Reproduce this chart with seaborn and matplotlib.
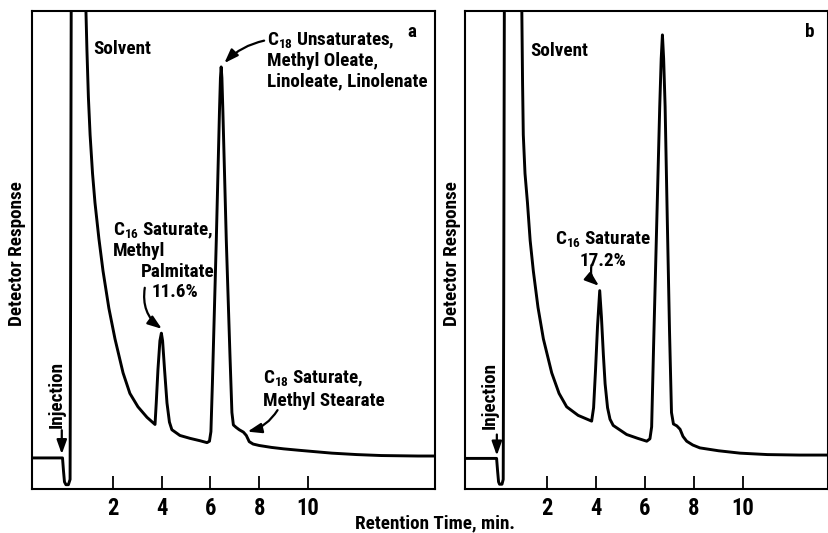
import matplotlib
matplotlib.use("Agg")
import matplotlib.pyplot as plt
from matplotlib import font_manager as fm
import pandas as pd
import seaborn as sns

# ---------------- data ----------------
# Panel a: retention time (min) and detector response (arbitrary units, 0-100 = frame)
time_a = [-1.31, -0.06, -0.02, 0.02, 0.08, 0.18, 0.25, 0.27, 0.30, 0.60, 0.88, 0.90,
          0.94, 1.00, 1.07, 1.17, 1.27, 1.43, 1.60, 1.84, 2.09, 2.42, 2.70, 3.03,
          3.40, 3.73, 3.78, 3.85, 3.93, 3.99, 4.04, 4.12, 4.22, 4.32, 4.42, 4.75,
          5.16, 5.57, 5.86, 5.96, 6.02, 6.08, 6.24, 6.37, 6.41, 6.44, 6.47, 6.51,
          6.65, 6.80, 6.88, 6.94, 7.05, 7.18, 7.35, 7.47, 7.59, 7.75, 8.00, 8.50,
          9.00, 9.63, 10.30, 10.98, 12.00, 13.00, 14.50, 15.20]
resp_a = [6.5, 6.5, 3.8, 1.5, 0.9, 0.9, 2.0, 38.0, 110.0, 150.0, 105.0, 100.0,
          91.9, 82.0, 74.1, 66.0, 59.9, 52.4, 45.6, 37.8, 31.4, 24.3, 20.0, 17.2,
          15.0, 13.5, 18.0, 25.0, 31.0, 32.6, 31.0, 25.0, 18.0, 14.0, 12.4, 11.2,
          10.6, 10.1, 9.7, 10.0, 12.0, 22.0, 52.0, 79.0, 86.0, 88.3, 86.0, 79.0,
          52.0, 28.0, 16.0, 13.4, 12.9, 12.4, 11.9, 11.2, 9.9, 9.4, 9.1, 8.7,
          8.4, 8.1, 7.8, 7.5, 7.2, 7.0, 6.9, 6.9]

# Panel b
time_b = [-1.35, -0.06, -0.02, 0.02, 0.06, 0.16, 0.21, 0.23, 0.26, 0.60, 0.95, 0.97,
          1.00, 1.03, 1.10, 1.20, 1.31, 1.44, 1.63, 1.85, 2.19, 2.49, 2.80, 3.27,
          3.82, 3.90, 3.98, 4.06, 4.15, 4.22, 4.30, 4.37, 4.47, 4.57, 4.70, 5.25,
          5.70, 6.07, 6.20, 6.27, 6.35, 6.48, 6.60, 6.66, 6.71, 6.76, 6.82, 6.91,
          7.00, 7.08, 7.16, 7.30, 7.43, 7.55, 7.70, 7.95, 8.24, 9.00, 9.88, 11.00,
          12.30, 13.47]
resp_b = [6.4, 6.4, 3.8, 1.5, 1.0, 1.0, 2.0, 38.0, 110.0, 150.0, 105.0, 100.0,
          85.0, 74.1, 66.0, 59.9, 52.0, 45.6, 38.0, 31.4, 24.3, 20.0, 17.2, 15.4,
          14.2, 17.0, 25.0, 34.0, 41.5, 36.0, 28.0, 22.0, 17.0, 14.6, 13.3, 11.4,
          10.6, 10.0, 10.5, 13.0, 30.0, 56.0, 80.0, 90.0, 95.0, 90.0, 80.0, 56.0,
          33.0, 16.0, 13.6, 13.2, 12.5, 11.0, 10.0, 9.2, 8.6, 8.0, 7.5, 7.2,
          7.1, 7.1]

tick_vals = [2, 4, 6, 8, 10]
tick_labels = ["2", "4", "6", "8", "10"]

# ---------------- font selection (condensed bold if available) ----------------
def _stretch_num(s):
    if isinstance(s, str):
        return fm.stretch_dict.get(s, 500)
    return s

avail = {f.name for f in fm.fontManager.ttflist}
family, stretch = None, "normal"
for p in ["Liberation Sans Narrow", "Roboto Condensed", "Open Sans Condensed",
          "Noto Sans Condensed", "DejaVu Sans Condensed", "Arial Narrow"]:
    if p in avail:
        family = p
        break
if family is None:
    for pref_fam in ["Roboto", "Noto Sans", "Open Sans", "DejaVu Sans", "Liberation Sans", "Lato", "Inter"]:
        for f in fm.fontManager.ttflist:
            if f.name == pref_fam and _stretch_num(f.stretch) < 500:
                family, stretch = pref_fam, "condensed"
                break
        if family:
            break
if family is None:
    family = "Liberation Sans"

sns.set_theme(style="white")
plt.rcParams["font.family"] = [family, "DejaVu Sans"]
plt.rcParams["font.weight"] = "bold"
plt.rcParams["font.stretch"] = stretch
plt.rcParams["text.color"] = "black"
plt.rcParams["xtick.color"] = "black"
plt.rcParams["axes.labelcolor"] = "black"
pat = f"{family}:weight=bold" + (f":stretch={stretch}" if stretch != "normal" else "")
plt.rcParams["mathtext.fontset"] = "custom"
plt.rcParams["mathtext.rm"] = pat
plt.rcParams["mathtext.bf"] = pat
plt.rcParams["mathtext.it"] = pat
plt.rcParams["mathtext.sf"] = pat
plt.rcParams["mathtext.default"] = "rm"

# size text so that its width roughly matches the reference ("Methyl Stearate" ~ 115 px)
_tf = plt.figure(dpi=100)
_r = _tf.canvas.get_renderer()
_t = _tf.text(0, 0, "Methyl Stearate", fontsize=13.5)
_w = _t.get_window_extent(renderer=_r).width
plt.close(_tf)
FS = min(15.0, 13.5 * 115.0 / _w * 1.06)

W, H = 829, 533
fig = plt.figure(figsize=(W / 100, H / 100), dpi=100)
fig.patch.set_facecolor("white")

ax_a = fig.add_axes([32 / W, (H - 489) / H, (435 - 32) / W, (489 - 11) / H])
ax_b = fig.add_axes([465 / W, (H - 489) / H, (828 - 465) / W, (489 - 11) / H])

arrow_kw = dict(arrowstyle="-|>,head_length=0.7,head_width=0.25", color="black",
                lw=1.6, shrinkA=0, shrinkB=0)

for ax, t, r, xl in [(ax_a, time_a, resp_a, (-1.31, 15.2)),
                     (ax_b, time_b, resp_b, (-1.35, 13.47))]:
    df = pd.DataFrame({"t": t, "r": r})
    sns.lineplot(data=df, x="t", y="r", ax=ax, sort=False, estimator=None,
                 color="black", lw=2.1)
    ax.set_xlim(*xl)
    ax.set_ylim(0, 100)
    ax.set_xticks(tick_vals)
    ax.set_xticklabels(tick_labels)
    ax.set_yticks([])
    ax.set_xlabel("")
    ax.set_ylabel("")
    ax.tick_params(axis="x", direction="in", length=9.5, width=1.3, colors="black",
                   labelsize=FS * 1.18, pad=6, bottom=True)
    for s in ax.spines.values():
        s.set_visible(True)
        s.set_linewidth(1.5)
        s.set_color("black")
    ax.set_facecolor("white")

# ---------------- panel a annotations ----------------
ax_a.text(1.18, 90.9, "Solvent", fontsize=FS, ha="left", va="baseline")
ax_a.text(14.24, 94.6, "a", fontsize=FS, ha="center", va="baseline")
ax_a.text(8.33, 92.8, r"C$_{18}$ Unsaturates,", fontsize=FS, ha="left", va="baseline")
ax_a.text(8.33, 88.5, "Methyl Oleate,", fontsize=FS, ha="left", va="baseline")
ax_a.text(8.33, 84.2, "Linoleate, Linolenate", fontsize=FS, ha="left", va="baseline")
ax_a.annotate("", xy=(6.57, 89.1), xytext=(8.2, 93.8),
              arrowprops=dict(connectionstyle="arc3,rad=0.15", **arrow_kw))

ax_a.text(2.01, 53.1, r"C$_{16}$ Saturate,", fontsize=FS, ha="left", va="baseline")
ax_a.text(2.01, 48.8, "Methyl", fontsize=FS, ha="left", va="baseline")
ax_a.text(3.17, 44.3, "Palmitate", fontsize=FS, ha="left", va="baseline")
ax_a.text(3.58, 40.2, "11.6%", fontsize=FS, ha="left", va="baseline")
ax_a.annotate("", xy=(4.01, 33.5), xytext=(3.31, 42.1),
              arrowprops=dict(connectionstyle="arc3,rad=0.3", **arrow_kw))

ax_a.text(8.14, 22.1, r"C$_{18}$ Saturate,", fontsize=FS, ha="left", va="baseline")
ax_a.text(8.14, 17.3, "Methyl Stearate", fontsize=FS, ha="left", va="baseline")
ax_a.annotate("", xy=(7.52, 12.0), xytext=(8.75, 16.5),
              arrowprops=dict(connectionstyle="arc3,rad=-0.2", **arrow_kw))

ax_a.text(-0.29, 19.7, "Injection", fontsize=FS, rotation=90, ha="center", va="center")
ax_a.annotate("", xy=(-0.09, 7.3), xytext=(-0.09, 12.3),
              arrowprops=dict(connectionstyle="arc3,rad=0", **arrow_kw))

# ---------------- panel b annotations ----------------
ax_b.text(1.31, 90.5, "Solvent", fontsize=FS, ha="left", va="baseline")
ax_b.text(12.73, 94.6, "b", fontsize=FS, ha="center", va="baseline")
ax_b.text(2.33, 51.3, r"C$_{16}$ Saturate", fontsize=FS, ha="left", va="baseline")
ax_b.text(4.29, 46.7, "17.2%", fontsize=FS, ha="center", va="baseline")
ax_b.annotate("", xy=(4.12, 42.5), xytext=(3.82, 46.9),
              arrowprops=dict(connectionstyle="arc3,rad=0.3", **arrow_kw))
ax_b.text(-0.33, 19.5, "Injection", fontsize=FS, rotation=90, ha="center", va="center")
ax_b.annotate("", xy=(-0.05, 7.0), xytext=(-0.05, 11.4),
              arrowprops=dict(connectionstyle="arc3,rad=0", **arrow_kw))

# ---------------- axis titles ----------------
fig.text(17 / W, 1 - 254 / H, "Detector Response", fontsize=FS, rotation=90,
         ha="center", va="center")
fig.text(452 / W, 1 - 254 / H, "Detector Response", fontsize=FS, rotation=90,
         ha="center", va="center")
fig.text(435 / W, 1 - 523 / H, "Retention Time, min.", fontsize=FS,
         ha="center", va="center")

fig.savefig("out.png", dpi=100, facecolor="white")
